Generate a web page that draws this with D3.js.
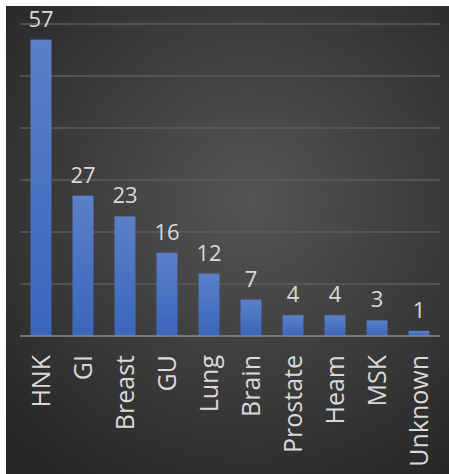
<!DOCTYPE html>
<html>
<head>
<meta charset="utf-8">
<script src="https://cdn.jsdelivr.net/npm/d3@7"></script>
<style>
  html, body { margin: 0; padding: 0; background: #fff; }
  svg { display: block; }
</style>
</head>
<body>
<div id="chart"></div>
<script>
const categories = ['HNK', 'GI', 'Breast', 'GU', 'Lung', 'Brain', 'Prostate', 'Heam', 'MSK', 'Unknown'];
const counts = [57, 27, 23, 16, 12, 7, 4, 4, 3, 1];
const gridTicks = [10, 20, 30, 40, 50, 60];

const W = 449, H = 474;
const margin = { top: 24, right: 9, bottom: 138, left: 20 };
const width = W - margin.left - margin.right;
const height = H - margin.top - margin.bottom;

const svg = d3.select('#chart').append('svg')
  .attr('width', W)
  .attr('height', H);

const defs = svg.append('defs');

const bg = defs.append('radialGradient')
  .attr('id', 'bg')
  .attr('gradientUnits', 'userSpaceOnUse')
  .attr('cx', 250).attr('cy', 200).attr('r', 330);
bg.append('stop').attr('offset', '0%').attr('stop-color', '#555555');
bg.append('stop').attr('offset', '100%').attr('stop-color', '#272727');

const barGrad = defs.append('linearGradient')
  .attr('id', 'bar')
  .attr('x1', 0).attr('y1', 0).attr('x2', 0).attr('y2', 1);
barGrad.append('stop').attr('offset', '0%').attr('stop-color', '#5b80c9');
barGrad.append('stop').attr('offset', '100%').attr('stop-color', '#3a66bb');

// panel
svg.append('rect')
  .attr('x', 6).attr('y', 6)
  .attr('width', W - 6).attr('height', H - 6)
  .attr('fill', 'url(#bg)');

const g = svg.append('g')
  .attr('transform', `translate(${margin.left},${margin.top})`);

const x = d3.scaleBand()
  .domain(categories)
  .range([0, width])
  .paddingInner(0.5)
  .paddingOuter(0.25);

const y = d3.scaleLinear()
  .domain([0, 60])
  .range([height, 0]);

// gridlines
g.append('g')
  .selectAll('line')
  .data(gridTicks)
  .join('line')
    .attr('x1', 0)
    .attr('x2', width)
    .attr('y1', d => y(d))
    .attr('y2', d => y(d))
    .attr('stroke', '#5c5c5c')
    .attr('stroke-width', 1.5);

// bars
g.selectAll('rect.bar')
  .data(counts)
  .join('rect')
    .attr('class', 'bar')
    .attr('x', (d, i) => x(categories[i]))
    .attr('y', d => y(d))
    .attr('width', x.bandwidth())
    .attr('height', d => height - y(d))
    .attr('fill', 'url(#bar)');

// baseline
g.append('line')
  .attr('x1', 0).attr('x2', width)
  .attr('y1', height).attr('y2', height)
  .attr('stroke', '#8a8a8a')
  .attr('stroke-width', 1.5);

// value labels
g.selectAll('text.value')
  .data(counts)
  .join('text')
    .attr('class', 'value')
    .attr('x', (d, i) => x(categories[i]) + x.bandwidth() / 2)
    .attr('y', d => y(d) - 13)
    .attr('text-anchor', 'middle')
    .attr('fill', '#d9d9d9')
    .style('font-family', '"Open Sans", sans-serif')
    .style('font-size', '22px')
    .text(d => d);

// category labels
const xAxis = g.append('g')
  .attr('transform', `translate(0,${height})`)
  .call(d3.axisBottom(x).tickSize(0).tickPadding(0));
xAxis.select('.domain').remove();
xAxis.selectAll('text')
  .attr('transform', 'translate(0,19) rotate(-90)')
  .attr('x', 0)
  .attr('y', 0)
  .attr('dy', '0.35em')
  .style('text-anchor', 'end')
  .style('font-family', '"Open Sans", sans-serif')
  .style('font-size', '25px')
  .attr('fill', '#d9d9d9');
</script>
</body>
</html>
